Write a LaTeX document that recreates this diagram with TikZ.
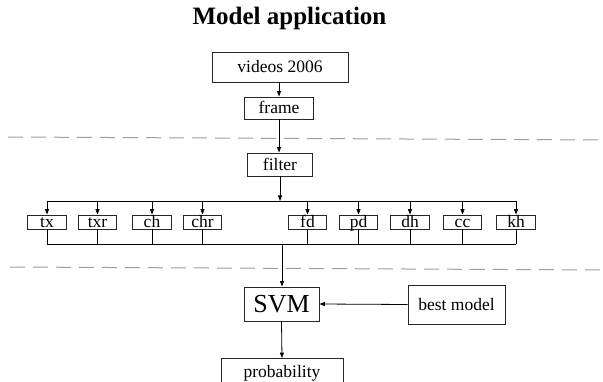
\documentclass[tikz,border=0pt]{standalone}
\usepackage{fontspec}
\setmainfont{Liberation Serif}
\usetikzlibrary{arrows.meta}
\begin{document}
\begin{tikzpicture}[x=1pt,y=-1pt,
  box/.style={draw=black!85, line width=0.9pt, inner sep=0pt, rectangle,
    font=\fontsize{17.5}{20}\selectfont, text height=12pt, text depth=0pt},
  small/.style={box, minimum width=38.5pt, minimum height=14pt},
  arr/.style={line width=0.8pt, -{Triangle[length=5.5pt,width=4pt]}},
  ln/.style={line width=0.8pt},
  sep/.style={gray!75, line width=1pt, dash pattern=on 15pt off 8pt}]
\useasboundingbox (0,0) rectangle (603,382);
\fill[white] (0,0) rectangle (603,382);
\node[anchor=base, font=\fontsize{25}{30}\selectfont\bfseries] (title) at (289.5,25) {Model application};
\node[box, minimum width=136pt, minimum height=30pt] (videos) at (280,67) {videos 2006};
\node[box, minimum width=69pt, minimum height=22pt] (frame) at (279,108) {frame};
\node[box, minimum width=65pt, minimum height=23pt] (filter) at (280,164.5) {filter};
\coordinate (sepAl) at (8,137);
\coordinate (sepAr) at (603,140);
\coordinate (sepBl) at (10,267);
\coordinate (sepBr) at (603,270);
\draw[sep] (sepAl) -- (sepAr);
\draw[sep] (sepBl) -- (sepBr);
\node[small] (tx) at (47,222) {tx};
\node[small] (txr) at (97.5,222) {txr};
\node[small] (ch) at (152,222) {ch};
\node[small] (chr) at (202.5,222) {chr};
\node[small] (fd) at (307.5,222) {fd};
\node[small] (pd) at (358.5,222) {pd};
\node[small] (dh) at (410,222) {dh};
\node[small] (cc) at (462.5,222) {cc};
\node[small] (kh) at (516,222) {kh};
\node[box, minimum width=75pt, minimum height=34pt, font=\fontsize{26}{30}\selectfont, text height=17pt] (svm) at (281.5,304) {SVM};
\node[box, minimum width=97pt, minimum height=39pt] (best) at (456.5,304.5) {best model};
\node[box, minimum width=122pt, minimum height=26pt] (prob) at (282,371.5) {probability};
\coordinate (bt) at (280,201);
\coordinate (bb) at (282,244);
\draw[arr] (videos.south -| frame.north) -- (frame.north);
\draw[arr] (frame.south) -- (frame.south |- filter.north);
\draw[arr] (filter.south) -- (filter.south |- bt);
\draw[ln] (tx.north |- bt) -- (kh.north |- bt);
\foreach \n in {tx,txr,ch,chr,fd,pd,dh,cc,kh}{
  \draw[arr] (\n.north |- bt) -- (\n.north);
  \draw[ln] (\n.south) -- (\n.south |- bb);
}
\draw[ln] (tx.south |- bb) -- (kh.south |- bb);
\draw[arr] (bb) -- (bb |- svm.north);
\draw[arr] (best.west) -- (svm.east);
\draw[arr] (svm.south) -- (prob.north);
\end{tikzpicture}
\end{document}
